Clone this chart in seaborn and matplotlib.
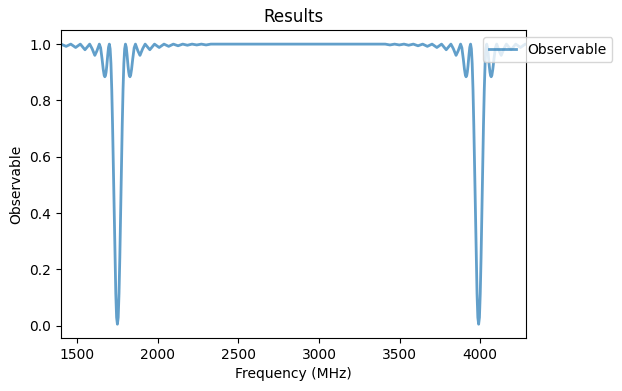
import numpy as np
import pandas as pd
import matplotlib
matplotlib.use('Agg')
import matplotlib.pyplot as plt
import seaborn as sns

# 왼쪽 공진 (~1750 MHz) 주변 값
left_freq = [1400, 1432, 1461, 1491, 1520, 1549, 1578, 1593, 1610, 1623, 1638, 1646,
             1655, 1662, 1668, 1672, 1676, 1680, 1684, 1690, 1695, 1700, 1705, 1710,
             1715, 1720, 1725, 1730, 1735, 1740, 1745,
             1750,
             1755, 1760, 1765, 1770, 1775, 1780, 1785, 1790, 1795, 1800, 1805, 1810,
             1816, 1820, 1824, 1828, 1832, 1838, 1845, 1854, 1862, 1877, 1890, 1907,
             1922, 1951, 1980, 2009, 2039, 2068, 2097, 2126, 2155, 2184, 2213, 2242,
             2271, 2300, 2329]
left_obs = [1.0, 0.992, 1.0, 0.988, 1.0, 0.980, 1.0, 0.984, 0.960, 0.976, 1.0, 0.987,
            0.947, 0.911, 0.889, 0.884, 0.888, 0.901, 0.922, 0.961, 0.989, 1.0, 0.983, 0.931,
            0.839, 0.712, 0.559, 0.396, 0.241, 0.114, 0.029,
            0.005,
            0.029, 0.114, 0.241, 0.396, 0.559, 0.712, 0.839, 0.931, 0.983, 1.0, 0.989, 0.961,
            0.922, 0.901, 0.888, 0.884, 0.889, 0.911, 0.947, 0.987, 1.0, 0.976, 0.960, 0.984,
            1.0, 0.980, 1.0, 0.988, 1.0, 0.992, 1.0, 0.994, 1.0, 0.996, 1.0, 0.997,
            1.0, 0.997, 1.0]

# 오른쪽 공진 (~3990 MHz) 주변 값
right_freq = [3411, 3440, 3469, 3498, 3527, 3556, 3585, 3614, 3643, 3672, 3701, 3731,
              3760, 3789, 3818, 3833, 3850, 3863, 3878, 3886, 3895, 3902, 3908, 3912,
              3916, 3920, 3924, 3930, 3935, 3940, 3945, 3950, 3955, 3960, 3965, 3970,
              3975, 3980, 3985,
              3990,
              3995, 4000, 4005, 4010, 4015, 4020, 4025, 4030, 4035, 4040, 4045, 4050,
              4056, 4060, 4064, 4068, 4072, 4078, 4085, 4094, 4102, 4117, 4130, 4147,
              4162, 4191, 4220, 4249, 4279, 4290]
right_obs = [1.0, 0.997, 1.0, 0.997, 1.0, 0.996, 1.0, 0.994, 1.0, 0.992, 1.0, 0.988,
             1.0, 0.980, 1.0, 0.984, 0.960, 0.976, 1.0, 0.987, 0.947, 0.911, 0.889, 0.884,
             0.888, 0.901, 0.922, 0.961, 0.989, 1.0, 0.983, 0.931, 0.839, 0.712, 0.559, 0.396,
             0.241, 0.114, 0.029,
             0.005,
             0.029, 0.114, 0.241, 0.396, 0.559, 0.712, 0.839, 0.931, 0.983, 1.0, 0.989, 0.961,
             0.922, 0.901, 0.888, 0.884, 0.889, 0.911, 0.947, 0.987, 1.0, 0.976, 0.960, 0.984,
             1.0, 0.980, 1.0, 0.988, 1.0, 0.999]

df = pd.DataFrame({
    'freq': left_freq + right_freq,
    'obs': left_obs + right_obs,
})

fig, ax = plt.subplots(figsize=(6.22, 3.91), dpi=100)
fig.subplots_adjust(left=0.098, right=0.846, top=0.923, bottom=0.135)

sns.lineplot(data=df, x='freq', y='obs', ax=ax, color='tab:blue', alpha=0.7,
             linewidth=2, label='Observable')

ax.set_xlim(1400, 4285)
ax.set_title('Results')
ax.set_xlabel('Frequency (MHz)')
ax.set_ylabel('Observable')
ax.legend(loc='upper right', bbox_to_anchor=(1.2, 1))

plt.savefig('out.png', dpi=100)
